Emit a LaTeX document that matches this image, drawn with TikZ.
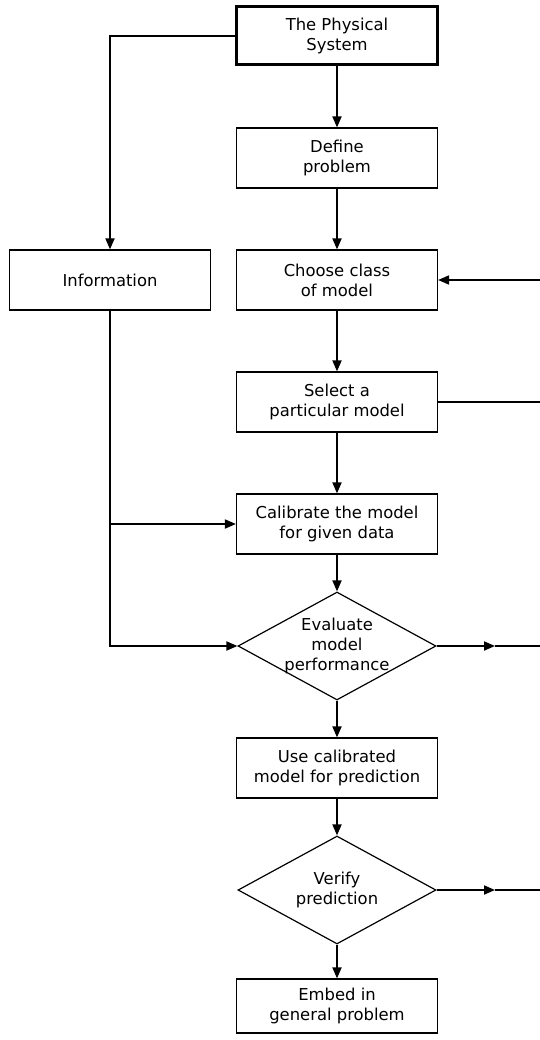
\documentclass[tikz,border=0pt]{standalone}
\usepackage{fontspec}
\setmainfont{DejaVu Sans}
\usetikzlibrary{shapes.geometric}
\usetikzlibrary{positioning}
\usetikzlibrary{arrows.meta}

\begin{document}
\begin{tikzpicture}[x=1pt,y=1pt,>={Triangle[length=11pt,width=9pt]},
	node distance=122pt,line width=1.8pt,
	every node/.style={font=\fontsize{16.4}{20}\selectfont,align=center},
	box node/.style={rectangle,draw,line width=1.2pt,minimum width=201pt,minimum height=60pt,inner sep=2pt},
	sys node/.style={box node,line width=3pt,minimum height=58pt},
	test node/.style={diamond,draw,line width=1.2pt,aspect=1.8,inner sep=-3pt,minimum width=198pt,minimum height=108pt}]
	
	\useasboundingbox (0,0) rectangle (540,-1040);
	
	\node[sys node] (sys) at (337,-36) {The Physical\\System};
	\node[box node] (define) [below of=sys] {Define\\problem};
	\node[box node] (choose) [below of=define] {Choose class\\of model};
	\node[box node] (select) [below of=choose] {Select a\\particular model};
	\node[box node] (calib) [below of=select] {Calibrate the model\\for given data};
	\node[test node] (eval) [below of=calib] {Evaluate\\model\\performance};
	\node[box node] (use) [below of=eval] {Use calibrated\\model for prediction};
	\node[test node] (verify) [below of=use] {Verify\\prediction};
	\node[box node,minimum height=54pt] (embed) [below of=verify,node distance=116pt] {Embed in\\general problem};
	\node[box node] (info) [left of=choose,node distance=227pt] {Information};
	
	\coordinate (rim) at (540,0);
	\coordinate (tip) at (495,0);
	
	% main chain
	\draw[->] (sys) -- (define);
	\draw[->] (define) -- (choose);
	\draw[->] (choose) -- (select);
	\draw[->] (select) -- (calib);
	\draw[->] (calib) -- (eval);
	\draw[->] (eval) -- (use);
	\draw[->] (use) -- (verify);
	\draw[->] (verify) -- (embed);
	
	% information branch
	\draw[->] (sys.west) -| (info.north);
	\draw[->] (info.south) |- (eval.west);
	\draw[->] (info.south |- calib.west) -- (calib.west);
	
	% right hand feedback lines
	\draw[->] (choose.east -| rim) -- (choose.east);
	\draw (select.east) -- (select.east -| rim);
	\draw[->] (eval.east) -- (eval.east -| tip);
	\draw (eval.east -| tip) -- (eval.east -| rim);
	\draw[->] (verify.east) -- (verify.east -| tip);
	\draw (verify.east -| tip) -- (verify.east -| rim);
\end{tikzpicture}
\end{document}
